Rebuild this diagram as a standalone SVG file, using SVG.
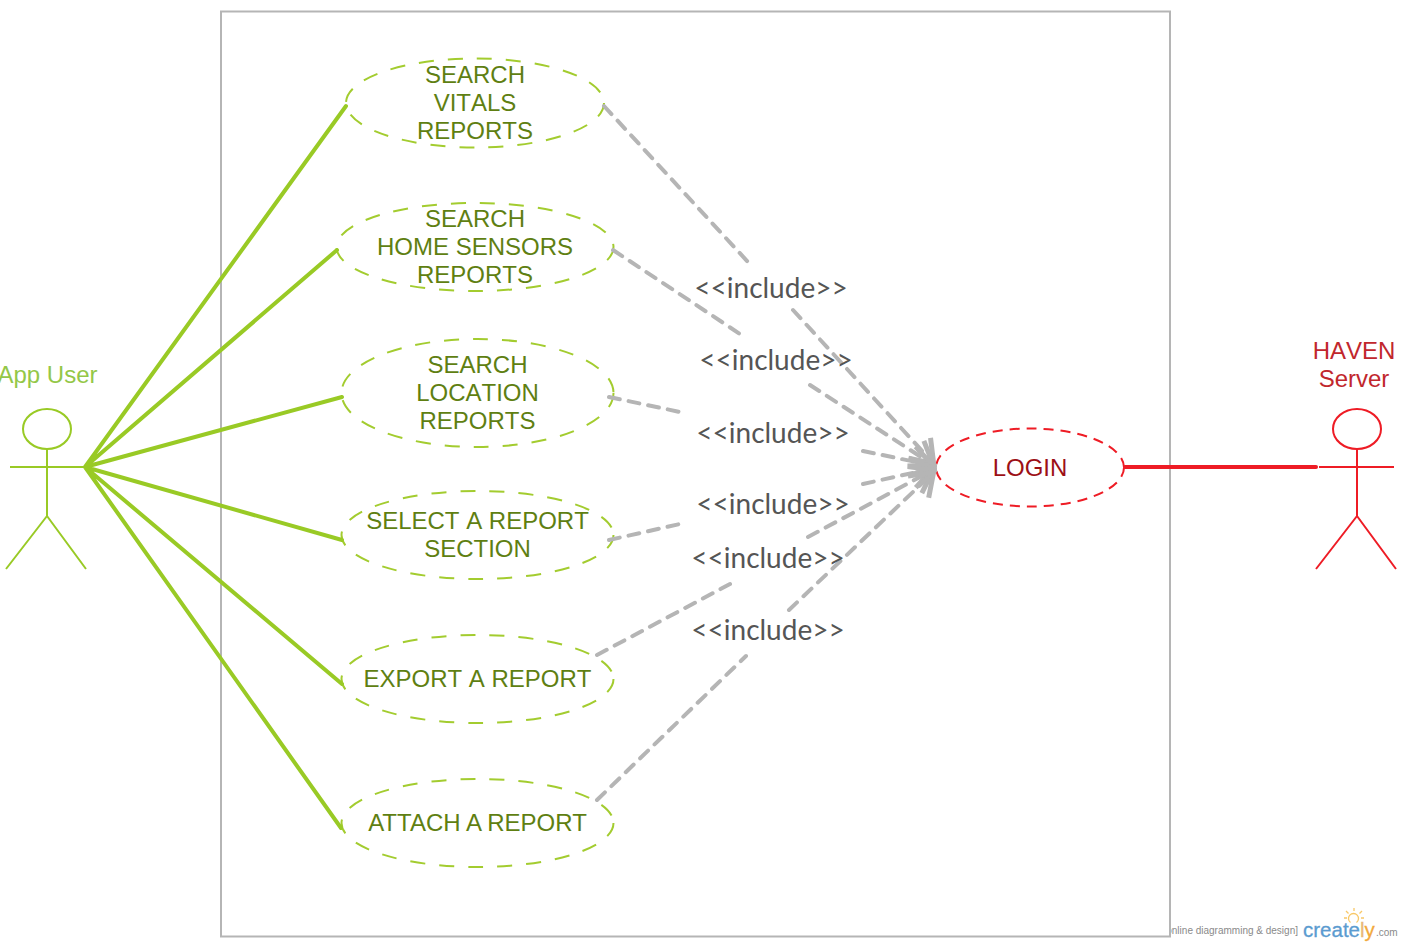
<svg xmlns="http://www.w3.org/2000/svg" width="1402" height="946" viewBox="0 0 1402 946">
<style>
.uc{font:24px "Liberation Sans",Arial,sans-serif;font-kerning:none;fill:#5f7f12;text-anchor:middle}
.t{font:24px "Liberation Sans",Arial,sans-serif;font-kerning:none;text-anchor:middle}
.e{fill:#fff;stroke:#a3cc2f;stroke-width:2;stroke-dasharray:15 14}
.g{fill:none;stroke:#99ca25;stroke-width:4;stroke-linecap:round}
.d{fill:none;stroke:#b5b5b5;stroke-width:4;stroke-dasharray:11 9;stroke-linecap:round;marker-end:url(#open)}
.l{font:28px Lato,"Open Sans",sans-serif;fill:#555;text-anchor:middle}
.a{fill:none;stroke:#99ca25;stroke-width:2}
.r{fill:none;stroke:#ee1c25;stroke-width:2}
</style>
<defs>
<marker id="open" markerUnits="userSpaceOnUse" markerWidth="60" markerHeight="60" refX="32" refY="30" orient="auto" viewBox="0 0 60 60">
<path d="M9 15L30 30L9 45" fill="none" stroke="#b5b5b5" stroke-width="5"/>
</marker>
</defs>
<g id="watermark">
<text x="1298" y="934" text-anchor="end" style="font:10px 'Liberation Sans',Arial,sans-serif;fill:#8a8a8a">online diagramming &amp; design]</text>
<text x="1303" y="937" style="font:20.500px 'Liberation Sans',Arial,sans-serif;fill:#5b9bd0;stroke:#5b9bd0;stroke-width:.3">create<tspan fill="#e8b878" stroke="#e8b878">l</tspan><tspan fill="#f2a93b" stroke="#f2a93b">y</tspan></text>
<text x="1376" y="936" style="font:10px 'Liberation Sans',Arial,sans-serif;fill:#8a8a8a">.com</text>
<path d="M1350.500 922.500a5 5 0 1 1 6 0M1354 908v3M1346 911l2.500 2.500M1362 911l-2.500 2.500M1344 918h3M1361 918h3" fill="none" stroke="#f8c868" stroke-width="1.300"/>
</g>
<rect id="boundary" x="221" y="11.500" width="949" height="925" fill="#fff" stroke="#b5b5b5" stroke-width="2"/>
<g id="uc1"><ellipse class="e" cx="475" cy="103" rx="129" ry="44.500"/><text class="uc"><tspan x="475" y="83">SEARCH</tspan><tspan x="475" y="111">VITALS</tspan><tspan x="475" y="139">REPORTS</tspan></text></g>
<g id="uc2"><ellipse class="e" cx="475" cy="247" rx="138.500" ry="44"/><text class="uc"><tspan x="475" y="227">SEARCH</tspan><tspan x="475" y="255">HOME SENSORS</tspan><tspan x="475" y="283">REPORTS</tspan></text></g>
<g id="uc3"><ellipse class="e" cx="477.500" cy="393" rx="136" ry="54"/><text class="uc"><tspan x="477.500" y="373">SEARCH</tspan><tspan x="477.500" y="401">LOCATION</tspan><tspan x="477.500" y="429">REPORTS</tspan></text></g>
<g id="uc4"><ellipse class="e" cx="477.500" cy="535" rx="136" ry="44"/><text class="uc"><tspan x="477.500" y="529">SELECT A REPORT</tspan><tspan x="477.500" y="557">SECTION</tspan></text></g>
<g id="uc5"><ellipse class="e" cx="477.500" cy="679" rx="136" ry="44"/><text class="uc" x="477.500" y="687">EXPORT A REPORT</text></g>
<g id="uc6"><ellipse class="e" cx="477.500" cy="823" rx="136" ry="44"/><text class="uc" x="477.500" y="831" style="font-kerning:normal">ATTACH A REPORT</text></g>
<g id="login"><ellipse cx="1030" cy="467.500" rx="94" ry="39" fill="#fff" stroke="#ee1c25" stroke-width="2" stroke-dasharray="10 7"/><text class="t" x="1030" y="476" fill="#9c1016">LOGIN</text></g>
<g id="actor-user"><text class="t" x="47.500" y="383" fill="#94c748">App User</text><ellipse class="a" cx="47" cy="429" rx="24" ry="20"/><path class="a" d="M47 449V516M10 467H85M47 516L6 569M47 516L86 569"/></g>
<g id="actor-server"><text class="t" fill="#c1272d"><tspan x="1354" y="359">HAVEN</tspan><tspan x="1354" y="387">Server</tspan></text><ellipse class="r" cx="1357" cy="429" rx="24" ry="20"/><path class="r" d="M1357 449V516M1319 467H1394M1357 516L1316 569M1357 516L1396 569"/></g>
<g id="connectors">
<path class="g" d="M85 467L346 106M85 467L337 250M85 467L342 397M85 467L342 540M85 467L342 684M85 467L341 828"/>
<path d="M1125 467H1316" fill="none" stroke="#ee1c25" stroke-width="4" stroke-linecap="round"/>
<path class="d" d="M604 106L748 262M793 310L935 465"/>
<path class="d" d="M613 250L740 334M810 385L935 466"/>
<path class="d" d="M609 397L680 412M863 451L935 466"/>
<path class="d" d="M609 540L680 524M863 484L935 468"/>
<path class="d" d="M597 655L730 584M808 537L935 469"/>
<path class="d" d="M597 800L746 656M789 610L935 471"/>
</g>
<g id="labels">
<text class="l" x="771" y="298">&lt;&lt;include&gt;&gt;</text>
<text class="l" x="776" y="370">&lt;&lt;include&gt;&gt;</text>
<text class="l" x="773" y="443">&lt;&lt;include&gt;&gt;</text>
<text class="l" x="773" y="514">&lt;&lt;include&gt;&gt;</text>
<text class="l" x="768" y="568">&lt;&lt;include&gt;&gt;</text>
<text class="l" x="768" y="640">&lt;&lt;include&gt;&gt;</text>
</g>
</svg>
